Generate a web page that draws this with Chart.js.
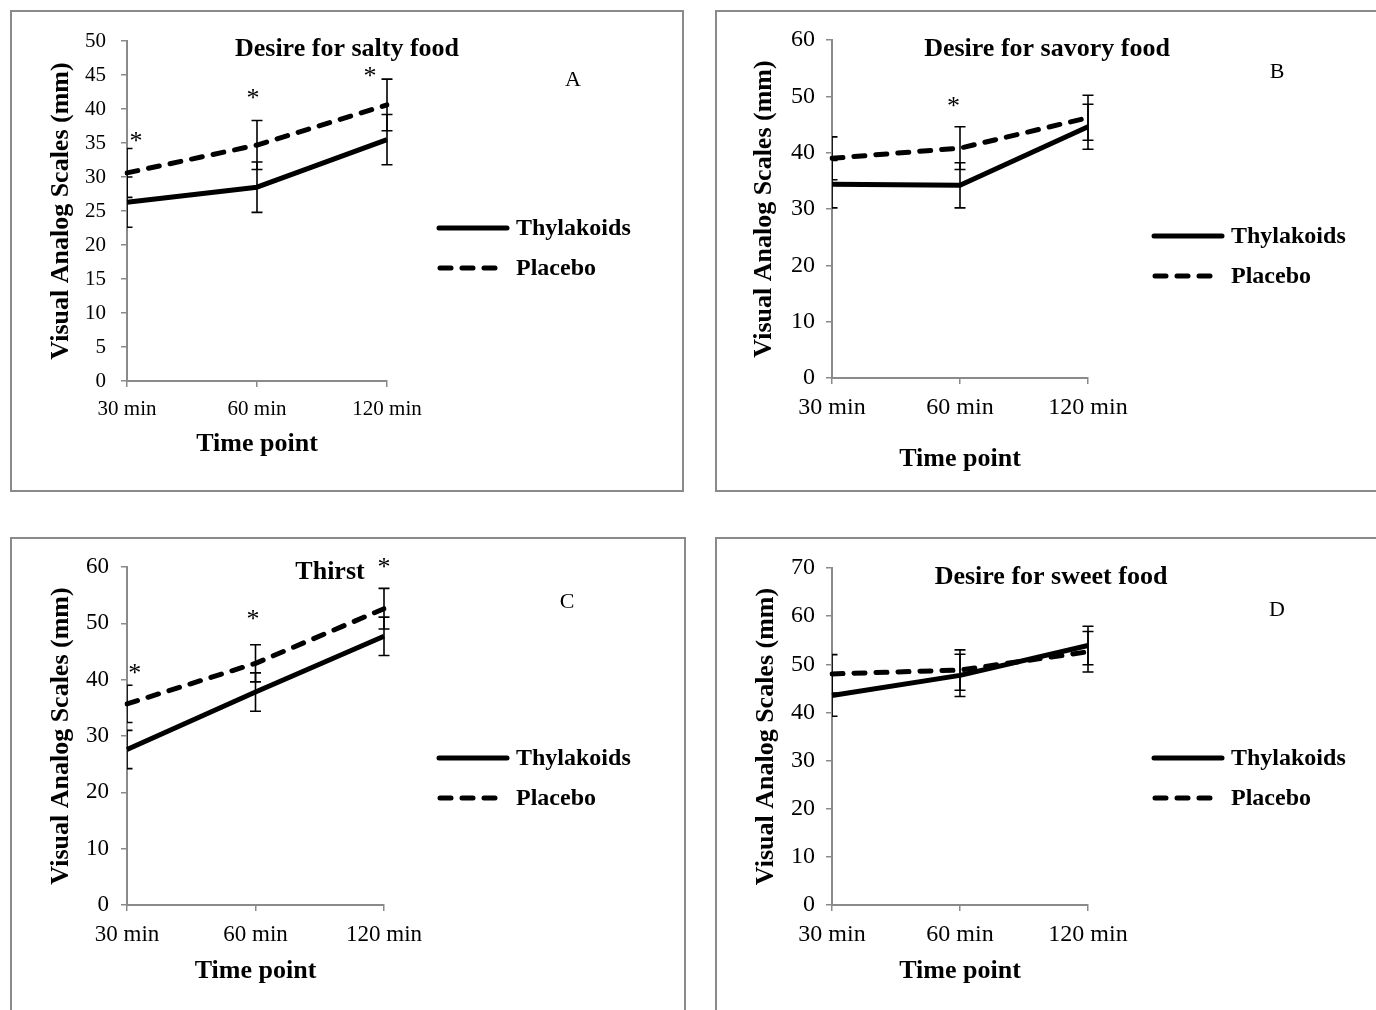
<!DOCTYPE html>
<html><head><meta charset="utf-8">
<script src="https://cdn.jsdelivr.net/npm/chart.js@4.4.1/dist/chart.umd.min.js"></script>
<style>
html,body{margin:0;padding:0;background:#fff;width:1376px;height:1010px;overflow:hidden;position:relative;}
.box{position:absolute;border:2px solid #8a8a8a;box-sizing:border-box;}
canvas{position:absolute;}
</style></head><body>
<div class="box" style="left:10px;top:10px;width:674px;height:482px"></div>
<div class="box" style="left:715px;top:10px;width:700px;height:482px"></div>
<div class="box" style="left:10px;top:537px;width:676px;height:500px"></div>
<div class="box" style="left:715px;top:537px;width:700px;height:500px"></div>
<canvas id="cA" style="left:11px;top:11px" width="672" height="480"></canvas>
<canvas id="cB" style="left:716px;top:11px" width="660" height="480"></canvas>
<canvas id="cC" style="left:11px;top:538px" width="674" height="472"></canvas>
<canvas id="cD" style="left:716px;top:538px" width="660" height="472"></canvas>
<script>
// ---------------- DATA ----------------
const categories = ['30 min', '60 min', '120 min'];
const seriesNames = ['Thylakoids', 'Placebo'];
const xAxisTitle = 'Time point';
const yAxisTitle = 'Visual Analog Scales (mm)';

// A: Desire for salty food
const saltyThylakoids   = [26.3, 28.5, 35.5];
const saltyThylakoidsSE = [3.7, 3.7, 3.7];
const saltyPlacebo      = [30.6, 34.7, 40.6];
const saltyPlaceboSE    = [3.6, 3.6, 3.8];
const saltyStars        = [[0.07, 36.0], [0.97, 42.4], [1.87, 45.6]];
const saltyYMax = 50, saltyYStep = 5;

// B: Desire for savory food
const savoryThylakoids   = [34.4, 34.2, 44.6];
const savoryThylakoidsSE = [4.2, 4.0, 4.0];
const savoryPlacebo      = [39.0, 40.8, 46.2];
const savoryPlaceboSE    = [3.8, 3.8, 4.0];
const savoryStars        = [[0.95, 49.2]];
const savoryYMax = 60, savoryYStep = 10;

// C: Thirst
const thirstThylakoids   = [27.6, 37.8, 47.7];
const thirstThylakoidsSE = [3.4, 3.4, 3.4];
const thirstPlacebo      = [35.7, 42.9, 52.6];
const thirstPlaceboSE    = [3.3, 3.3, 3.6];
const thirstStars        = [[0.06, 42.0], [0.98, 51.6], [2.0, 60.9]];
const thirstYMax = 60, thirstYStep = 10;

// D: Desire for sweet food
const sweetThylakoids   = [43.5, 47.7, 53.9];
const sweetThylakoidsSE = [4.3, 4.4, 4.0];
const sweetPlacebo      = [48.0, 48.8, 52.6];
const sweetPlaceboSE    = [4.0, 4.2, 4.2];
const sweetStars        = [];
const sweetYMax = 70, sweetYStep = 10;

// ---------------- RENDERING ----------------
const FAM = '"Liberation Serif", "Times New Roman", Times, serif';
const GRAY = '#8a8a8a';

const extrasPlugin = {
  id: 'extras',
  afterDatasetsDraw(chart, args, o) {
    const ctx = chart.ctx, ca = chart.chartArea;
    const xs = chart.scales.x, ys = chart.scales.y;
    // error bars
    ctx.save();
    ctx.beginPath();
    ctx.rect(ca.left, 0, chart.width - ca.left, chart.height);
    ctx.clip();
    ctx.strokeStyle = '#000';
    ctx.lineWidth = 1.6;
    chart.data.datasets.forEach(ds => {
      ds.data.forEach((v, i) => {
        const e = ds.errors[i];
        const x = xs.getPixelForValue(i);
        const y1 = ys.getPixelForValue(v + e), y2 = ys.getPixelForValue(v - e);
        ctx.beginPath();
        ctx.moveTo(x, y1); ctx.lineTo(x, y2);
        ctx.moveTo(x - 5.5, y1); ctx.lineTo(x + 5.5, y1);
        ctx.moveTo(x - 5.5, y2); ctx.lineTo(x + 5.5, y2);
        ctx.stroke();
      });
    });
    ctx.restore();
    // significance stars
    ctx.save();
    ctx.fillStyle = '#000';
    ctx.font = '26px ' + FAM;
    ctx.textAlign = 'center';
    ctx.textBaseline = 'alphabetic';
    (o.stars || []).forEach(s => {
      ctx.fillText('*', xs.getPixelForValue(s[0]), ys.getPixelForValue(s[1]) + 13);
    });
    ctx.restore();
  },
  afterDraw(chart, args, o) {
    const ctx = chart.ctx;
    ctx.save();
    ctx.fillStyle = '#000';
    ctx.textBaseline = 'middle';
    ctx.textAlign = 'center';
    ctx.font = 'bold 26px ' + FAM;
    ctx.fillText(o.title, o.titlePos[0], o.titlePos[1]);
    ctx.font = '22px ' + FAM;
    ctx.fillText(o.letter, o.letterPos[0], o.letterPos[1]);
    // legend
    const [lx, ly] = o.legendPos;
    chart.data.datasets.forEach((ds, i) => {
      const y = ly + i * 40;
      ctx.save();
      ctx.strokeStyle = ds.borderColor;
      ctx.lineWidth = ds.borderWidth;
      ctx.lineCap = 'round';
      ctx.setLineDash(ds.borderDash || []);
      ctx.beginPath();
      if (ds.borderDash && ds.borderDash.length) { ctx.moveTo(lx + 3, y); ctx.lineTo(lx + 62, y); }
      else { ctx.moveTo(lx + 2, y); ctx.lineTo(lx + 70, y); }
      ctx.stroke();
      ctx.restore();
      ctx.font = 'bold 24px ' + FAM;
      ctx.textAlign = 'left';
      ctx.fillText(ds.label, lx + 79, y + 1);
    });
    ctx.restore();
  }
};

function makeChart(id, p) {
  return new Chart(document.getElementById(id), {
    type: 'line',
    data: {
      labels: categories,
      datasets: [
        { label: seriesNames[0], data: p.thy, errors: p.thySE, borderColor: '#000', borderWidth: 5,
          pointRadius: 0, tension: 0, fill: false, borderCapStyle: 'butt', borderJoinStyle: 'round' },
        { label: seriesNames[1], data: p.pla, errors: p.plaSE, borderColor: '#000', borderWidth: 5,
          borderDash: [11, 11], pointRadius: 0, tension: 0, fill: false, borderCapStyle: 'round', borderJoinStyle: 'round' }
      ]
    },
    plugins: [extrasPlugin],
    options: {
      responsive: false,
      animation: false,
      events: [],
      layout: { padding: { left: 0, right: p.padRight, top: p.padTop, bottom: 0 } },
      plugins: {
        legend: { display: false },
        tooltip: { enabled: false },
        title: { display: false },
        extras: { title: p.title, titlePos: p.titlePos, letter: p.letter, letterPos: p.letterPos,
                  legendPos: p.legendPos, stars: p.stars }
      },
      scales: {
        x: {
          type: 'category', offset: false,
          grid: { offset: false, drawOnChartArea: false, drawTicks: true, tickLength: 6, color: GRAY, lineWidth: 1.5 },
          border: { color: GRAY, width: 2 },
          ticks: { color: '#000', font: { family: FAM, size: p.tickSize }, padding: p.xTickPad, maxRotation: 0, autoSkip: false },
          title: { display: true, text: xAxisTitle, color: '#000', font: { family: FAM, size: 26, weight: 'bold' },
                   padding: { top: 0, bottom: p.xTitlePad } },
          afterFit: s => { s.height = p.xH; }
        },
        y: {
          min: 0, max: p.yMax,
          grid: { drawOnChartArea: false, drawTicks: true, tickLength: 6, color: GRAY, lineWidth: 1.5 },
          border: { color: GRAY, width: 2 },
          ticks: { stepSize: p.yStep, color: '#000', font: { family: FAM, size: p.tickSize }, padding: p.yTickPad },
          title: { display: true, text: yAxisTitle, color: '#000', font: { family: FAM, size: 26, weight: 'bold' },
                   padding: { top: p.yTitlePad, bottom: 0 } },
          afterFit: s => { s.width = 116; }
        }
      }
    }
  });
}

makeChart('cA', {
  thy: saltyThylakoids, thySE: saltyThylakoidsSE, pla: saltyPlacebo, plaSE: saltyPlaceboSE,
  stars: saltyStars, yMax: saltyYMax, yStep: saltyYStep,
  title: 'Desire for salty food', titlePos: [336, 38], letter: 'A', letterPos: [562, 69],
  legendPos: [426, 217], padRight: 296, padTop: 30, xH: 110, xTitlePad: 31, yTitlePad: 35,
  tickSize: 21, xTickPad: 10, yTickPad: 15
});
makeChart('cB', {
  thy: savoryThylakoids, thySE: savoryThylakoidsSE, pla: savoryPlacebo, plaSE: savoryPlaceboSE,
  stars: savoryStars, yMax: savoryYMax, yStep: savoryYStep,
  title: 'Desire for savory food', titlePos: [331, 38], letter: 'B', letterPos: [561, 61],
  legendPos: [436, 225], padRight: 288, padTop: 29, xH: 113, xTitlePad: 16, yTitlePad: 33,
  tickSize: 24, xTickPad: 9, yTickPad: 11
});
makeChart('cC', {
  thy: thirstThylakoids, thySE: thirstThylakoidsSE, pla: thirstPlacebo, plaSE: thirstPlaceboSE,
  stars: thirstStars, yMax: thirstYMax, yStep: thirstYStep,
  title: 'Thirst', titlePos: [319, 34], letter: 'C', letterPos: [556, 64],
  legendPos: [426, 220], padRight: 301, padTop: 29, xH: 105, xTitlePad: 23, yTitlePad: 35,
  tickSize: 23, xTickPad: 10, yTickPad: 12
});
makeChart('cD', {
  thy: sweetThylakoids, thySE: sweetThylakoidsSE, pla: sweetPlacebo, plaSE: sweetPlaceboSE,
  stars: sweetStars, yMax: sweetYMax, yStep: sweetYStep,
  title: 'Desire for sweet food', titlePos: [335, 39], letter: 'D', letterPos: [561, 72],
  legendPos: [436, 220], padRight: 288, padTop: 30, xH: 105, xTitlePad: 23, yTitlePad: 35,
  tickSize: 24, xTickPad: 9, yTickPad: 11
});
</script>
</body></html>
